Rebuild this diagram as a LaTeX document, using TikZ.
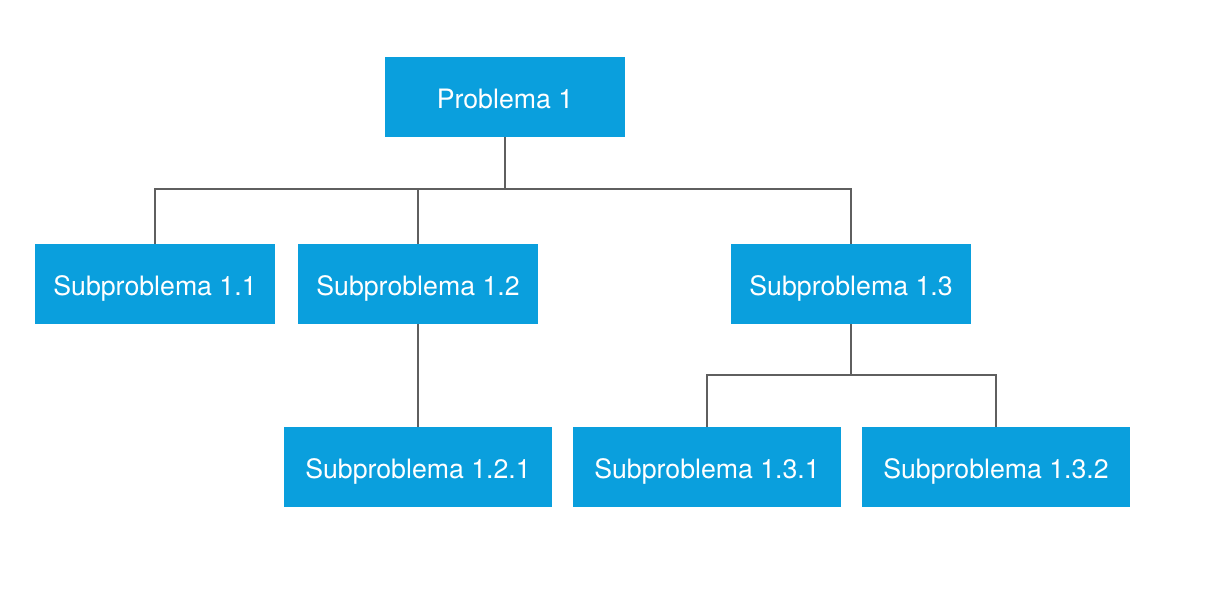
\documentclass[tikz,border=0pt]{standalone}
\usepackage{fontspec}
\setmainfont{TeX Gyre Heros}
\definecolor{boxblue}{RGB}{10,159,221}
\definecolor{linegray}{RGB}{95,95,95}
\tikzset{
    probbox/.style={fill=boxblue, text=white, inner sep=0pt, text height=13pt, text depth=0pt, minimum width=4.8cm, minimum height=1.6cm, font=\fontsize{15.2}{18}\selectfont},
    widebox/.style={probbox, minimum width=5.36cm},
    link/.style={draw=linegray, line width=1.25pt}
}
\begin{document}
\begin{tikzpicture}[x=0.02cm, y=-0.02cm]
        \useasboundingbox (0,0) rectangle (1216,595);

        \node[probbox] (p1) at (505,97) {Problema 1};
        \node[probbox] (s11) at (155,284) {Subproblema 1.1};
        \node[probbox] (s12) at (418,284) {Subproblema 1.2};
        \node[probbox] (s13) at (851,284) {Subproblema 1.3};
        \node[widebox] (s121) at (418,467) {Subproblema 1.2.1};
        \node[widebox] (s131) at (707,467) {Subproblema 1.3.1};
        \node[widebox] (s132) at (996,467) {Subproblema 1.3.2};

        % Problema 1 -> level 1
        \coordinate (j1) at (505,189);
        \draw[link] (p1.south) -- (j1);
        \draw[link] (s11.north) |- (j1) -| (s13.north);
        \draw[link] (s12.north) -- (s12.north |- j1);
        \draw[link] (s12.south) -- (s121.north);

        % Subproblema 1.3 -> level 2
        \coordinate (j2) at (851,375);
        \draw[link] (s13.south) -- (j2);
        \draw[link] (s131.north) |- (j2) -| (s132.north);
    \end{tikzpicture}
\end{document}
